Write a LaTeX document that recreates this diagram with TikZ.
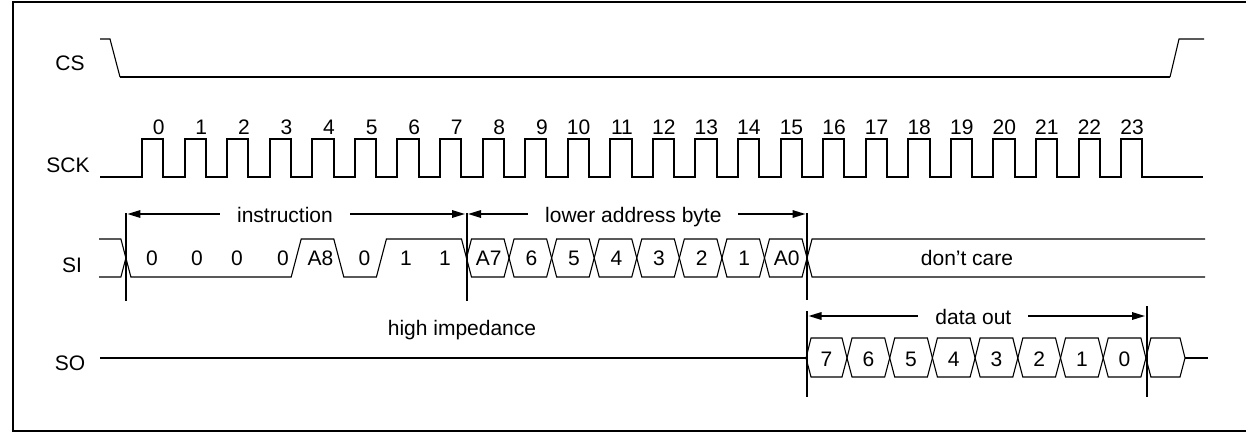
\documentclass[tikz,border=0pt]{standalone}
\usepackage{fontspec}
\setmainfont{Liberation Sans}
\usetikzlibrary{arrows.meta}
\begin{document}
\begin{tikzpicture}[x=1pt,y=-1pt,
  every node/.style={font=\fontsize{21}{25}\selectfont, inner sep=0pt},
  sig/.style={line width=2pt, line join=miter},
  thinsig/.style={line width=1.1pt, line join=miter},
  bus/.style={line width=1.1pt, line join=miter},
  markline/.style={line width=2pt},
  dim/.style={line width=1.6pt, <->, >={Triangle[length=13pt,width=7.5pt]}, shorten <=1.5pt, shorten >=1.5pt},
  dimlbl/.style={fill=white, inner xsep=17pt, inner ysep=2pt, text height=20pt, text depth=4pt},
  cell/.style={anchor=base}
]
\useasboundingbox (0,0) rectangle (1246,433);
% frame (open on the right)
\draw[line width=2pt] (1246,2) -- (13.3,2) -- (13.3,431) -- (1246,431);

% signal names
\node[anchor=base] (lcs) at (70,71) {CS};
\node[anchor=base] (lsck) at (68,172) {SCK};
\node[anchor=base] (lsi) at (72,272) {SI};
\node[anchor=base] (lso) at (70,370) {SO};

% CS
\draw[thinsig] (100,39) -- (110,39) -- (120,77);
\draw[sig] (120,77) -- (1170,77);
\draw[thinsig] (1170,77) -- (1179,39) -- (1204,39);

% SCK
\draw[sig] (100,177) foreach \i in {0,...,23}{
  -- ({142+42.57*\i},177) -- ({142+42.57*\i},138.5)
  -- ({163.3+42.57*\i},138.5) -- ({163.3+42.57*\i},177)} -- (1203,177);
\foreach \i in {0,...,23}
  \node[anchor=base east] (ck\i) at ({164.8+42.57*\i},135) {\i};

% SI
\draw[bus] (99,239) -- (120.9,239) -- (125.9,258) -- (120.9,277) -- (99,277);
\draw[bus] (125.9,258) -- (130.9,277) -- (291.2,277) -- (301.2,239) -- (333.8,239)
  -- (343.8,277) -- (376.4,277) -- (386.4,239) -- (461.5,239) -- (466.5,258);
\foreach \x/\t [count=\n] in {152/0,197/0,237/0,283/0,320.5/A8,364.5/0,406/1,445/1}
  \node[cell] (ib\n) at (\x,265) {\t};
\foreach \t [count=\k from 7] in {A7,6,5,4,3,2,1,A0}{
  \pgfmathsetmacro{\ba}{168.5+42.57*\k}
  \pgfmathsetmacro{\bb}{168.5+42.57*(\k+1)}
  \draw[bus] (\ba,258) -- ({\ba+5},239) -- ({\bb-5},239) -- (\bb,258)
    -- ({\bb-5},277) -- ({\ba+5},277) -- cycle;
  \node[cell] (ab\k) at ({(\ba+\bb)/2+1},265) {\t};
}
\draw[bus] (1205,239) -- (812.05,239) -- (807.05,258) -- (812.05,277) -- (1205,277);
\node[anchor=base] (dc) at (967,265) {don’t care};

% SO
\draw[sig] (100,358) -- (806,358);
\node[anchor=base] (hiz) at (462,335) {high impedance};
\foreach \ba/\bb/\t [count=\n] in {806/847/7,847/889.7/6,889.7/932.4/5,932.4/975.1/4,
    975.1/1017.8/3,1017.8/1060.5/2,1060.5/1103.2/1,1103.2/1145.9/0,1145.9/1185/{}}{
  \draw[bus] (\ba,358) -- ({\ba+5},338) -- ({\bb-5},338) -- (\bb,358)
    -- ({\bb-5},377) -- ({\ba+5},377) -- cycle;
  \node[cell] (ob\n) at ({(\ba+\bb)/2},366) {\t};
}
\draw[sig] (1185,358) -- (1208,358);

% timing markers
\coordinate (m1t) at (125.9,213); \coordinate (m1b) at (125.9,301);
\coordinate (m2t) at (466.5,213); \coordinate (m2b) at (466.5,301);
\coordinate (m3t) at (807,213);   \coordinate (m3b) at (807,300);
\coordinate (m4t) at (807,311);   \coordinate (m4b) at (807,397);
\coordinate (m5t) at (1146.5,306); \coordinate (m5b) at (1146.5,397);
\foreach \m in {m1,m2,m3,m4,m5} \draw[markline] (\m t) -- (\m b);

% dimension arrows
\coordinate (a1) at (125.9,214);
\coordinate (a2) at (466.5,214);
\coordinate (a3) at (807,214);
\coordinate (a4) at (807,316);
\coordinate (a5) at (1146.5,316);
\draw[dim] (a1) -- node[dimlbl,pos=0.467] (tinstr) {instruction} (a2);
\draw[dim] (a2) -- node[dimlbl,pos=0.49] (taddr) {lower address byte} (a3);
\draw[dim] (a4) -- node[dimlbl,pos=0.49] (tdata) {data out} (a5);
\end{tikzpicture}
\end{document}
